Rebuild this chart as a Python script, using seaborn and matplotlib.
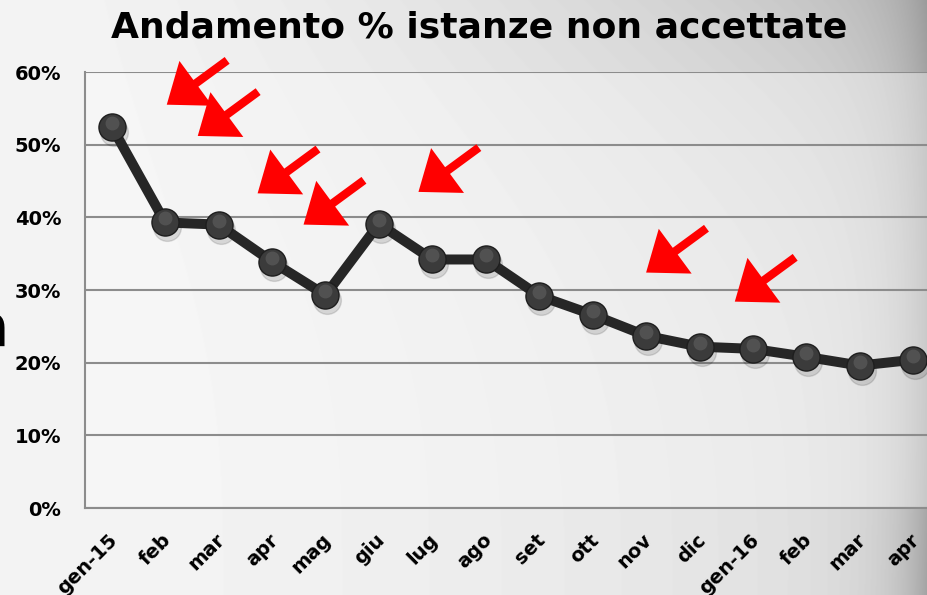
import numpy as np
import pandas as pd
import matplotlib
matplotlib.use("Agg")
import matplotlib.pyplot as plt
import matplotlib.transforms as mtransforms
import seaborn as sns

# data
mesi = ["gen-15", "feb", "mar", "apr", "mag", "giu", "lug", "ago",
        "set", "ott", "nov", "dic", "gen-16", "feb", "mar", "apr"]
perc = [52.5, 39.3, 39.0, 33.9, 29.3, 39.1, 34.2, 34.2,
        29.2, 26.6, 23.7, 22.2, 21.9, 20.8, 19.6, 20.4]
y_ticks = [0, 10, 20, 30, 40, 50, 60]

# red arrows: tip position (category index, %) - all point the same way
freccia_x = [1.03, 1.61, 2.73, 3.59, 5.74, 10.0, 11.66]
freccia_y = [55.5, 51.2, 43.3, 39.0, 43.5, 32.4, 28.4]
freccia_dx, freccia_dy = 1.13, 6.1

df = pd.DataFrame({"idx": np.arange(len(mesi)), "perc": perc})

W, H = 928, 595
fig = plt.figure(figsize=(W / 100, H / 100), dpi=100)

# slide-like grey background
xx, yy = np.meshgrid(np.arange(W), np.arange(H))
bg = (0.955 - 0.10 * (xx / W) ** 2 - 0.12 * (xx / W) ** 1.5 * (1 - yy / H) ** 3
      - 0.22 * np.exp((xx - W) / 35.0) * (0.6 + 0.4 * yy / H))
bgax = fig.add_axes([0, 0, 1, 1], zorder=-10)
bgax.imshow(bg, cmap="gray", vmin=0, vmax=1, aspect="auto")
bgax.axis("off")

left, right, top, bottom = 85, 940, 72, 508
ax = fig.add_axes([left / W, 1 - bottom / H, (right - left) / W, (bottom - top) / H])
ax.set_facecolor((0.985, 0.985, 0.985, 0.4))

# marker shadows
shadow = ax.transData + mtransforms.ScaledTranslation(2 / 100, -5 / 100, fig.dpi_scale_trans)
ax.plot(df["idx"], df["perc"], "o", ms=20, color="black", alpha=0.12,
        transform=shadow, zorder=2)

sns.lineplot(data=df, x="idx", y="perc", ax=ax, color="#262626", lw=7.2,
             marker="o", markersize=19.5, markerfacecolor="#3b3b3b",
             markeredgecolor="#1e1e1e", markeredgewidth=1.0, zorder=3)

# small highlight on each ball
hl = ax.transData + mtransforms.ScaledTranslation(0, 4 / 100, fig.dpi_scale_trans)
ax.plot(df["idx"], df["perc"], "o", ms=10, color="#6e6e6e", alpha=0.45,
        mec="none", transform=hl, zorder=4)

for fx, fy in zip(freccia_x, freccia_y):
    ax.annotate("", xy=(fx, fy), xytext=(fx + freccia_dx, fy + freccia_dy),
                arrowprops=dict(arrowstyle="simple,head_length=2.6,head_width=4.0,tail_width=0.6",
                                fc="#ff0000", ec="none", mutation_scale=10,
                                shrinkA=0, shrinkB=0),
                annotation_clip=False, zorder=5)

ax.set_xlim(-0.5, len(mesi) - 0.5)
ax.set_ylim(0, 60)
ax.set_yticks(y_ticks)
ax.set_yticklabels([f"{v}%" for v in y_ticks], fontsize=14, fontweight="bold",
                   family="DejaVu Sans")
ax.set_xticks(df["idx"])
ax.set_xticklabels(mesi, fontsize=14, fontweight="bold", family="DejaVu Sans",
                   rotation=45, ha="right", va="center", rotation_mode="anchor")
ax.tick_params(axis="y", length=0, pad=17)
ax.tick_params(axis="x", length=0, pad=0)
off = mtransforms.ScaledTranslation(3 / 100, -29 / 100, fig.dpi_scale_trans)
for lbl in ax.get_xticklabels():
    lbl.set_transform(lbl.get_transform() + off)

ax.set_xlabel("")
ax.set_ylabel("")
ax.grid(axis="y", color="#8c8c8c", lw=1.5)
ax.grid(axis="x", visible=False)
ax.set_axisbelow(True)
for s in ["top", "right"]:
    ax.spines[s].set_visible(False)
for s in ["left", "bottom"]:
    ax.spines[s].set_color("#8c8c8c")
    ax.spines[s].set_linewidth(1.5)

fig.text(479 / W, 1 - 28 / H, "Andamento % istanze non accettate",
         ha="center", va="center", fontsize=26, fontweight="bold",
         family="DejaVu Sans")
# fragment of slide text cut at the left edge
fig.text(9 / W, 1 - 346 / H, "a", ha="right", va="baseline", fontsize=42,
         family="DejaVu Sans")

fig.savefig("out.png", dpi=100)
